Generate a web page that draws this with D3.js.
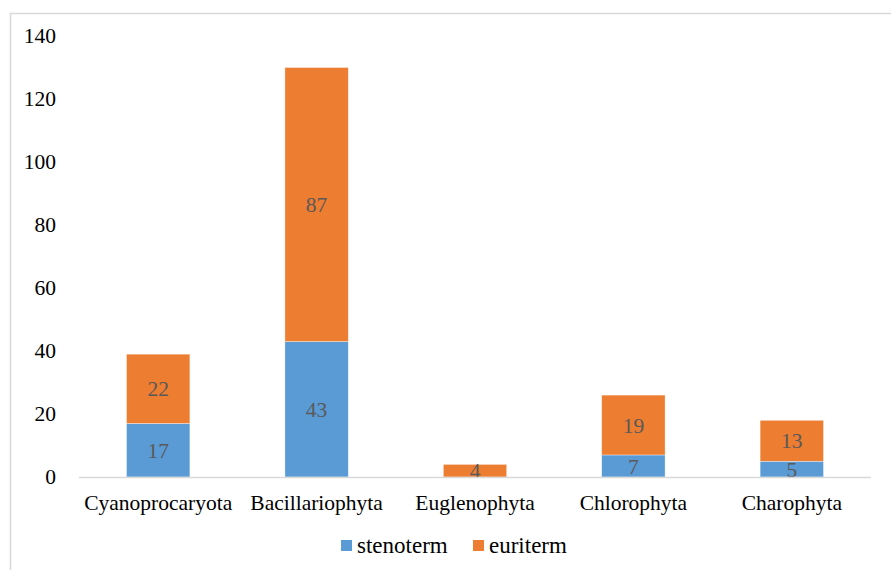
<!DOCTYPE html>
<html>
<head>
<meta charset="utf-8">
<script src="https://cdn.jsdelivr.net/npm/d3@7"></script>
<style>
  html, body { margin: 0; padding: 0; background: #fff; }
  svg { display: block; }
  svg text { font-family: "Liberation Serif", "Times New Roman", serif !important; }
</style>
</head>
<body>
<svg id="chart" width="891" height="570"></svg>
<script>
// Algal divisions and species counts by temperature tolerance
const categories = ["Cyanoprocaryota", "Bacillariophyta", "Euglenophyta", "Chlorophyta", "Charophyta"];
const stenoterm = [17, 43, 0, 7, 5];
const euriterm = [22, 87, 4, 19, 13];
const seriesNames = ["stenoterm", "euriterm"];
const seriesColors = ["#5B9BD5", "#ED7D31"];
const yTicks = [0, 20, 40, 60, 80, 100, 120, 140];

const FONT = "'Liberation Serif', 'Times New Roman', serif";
const svg = d3.select("#chart");
const x0 = 79, x1 = 871;
const yTop = 36, yBottom = 477;

// outer chart frame (only top and left edges fall inside the view)
svg.append("rect")
  .attr("x", 10.5).attr("y", 13.5)
  .attr("width", 1000).attr("height", 1000)
  .attr("fill", "none").attr("stroke", "#d9d9d9").attr("stroke-width", 1.5);

const x = d3.scaleBand().domain(categories).range([x0, x1]).paddingInner(0.6).paddingOuter(0.3);
const y = d3.scaleLinear().domain([0, 140]).range([yBottom, yTop]);

const rows = categories.map((c, i) => ({ cat: c, stenoterm: stenoterm[i], euriterm: euriterm[i] }));
const stack = d3.stack().keys(seriesNames)(rows);

const g = svg.append("g");
stack.forEach((layer, si) => {
  g.append("g").selectAll("rect").data(layer).join("rect")
    .attr("x", d => x(d.data.cat))
    .attr("width", x.bandwidth())
    .attr("y", d => y(d[1]))
    .attr("height", d => y(d[0]) - y(d[1]))
    .attr("fill", seriesColors[si])
    .attr("stroke", "#ffffff").attr("stroke-width", 0.6).attr("stroke-opacity", 0.6);
});

// value labels centred in each segment
stack.forEach((layer, si) => {
  g.append("g").selectAll("text").data(layer.filter(d => d[1] - d[0] > 0)).join("text")
    .attr("x", d => x(d.data.cat) + x.bandwidth() / 2)
    .attr("y", d => (y(d[0]) + y(d[1])) / 2)
    .attr("dy", "0.35em")
    .attr("text-anchor", "middle")
    .style("font-family", FONT)
    .attr("font-size", 21.5)
    .attr("fill", "#595959")
    .text(d => d[1] - d[0]);
});

// x axis baseline
svg.append("line")
  .attr("x1", x0).attr("x2", x1)
  .attr("y1", yBottom + 0.5).attr("y2", yBottom + 0.5)
  .attr("stroke", "#d9d9d9").attr("stroke-width", 1.5);

// category labels
svg.append("g").selectAll("text").data(categories).join("text")
  .attr("x", d => x(d) + x.bandwidth() / 2)
  .attr("y", 510)
  .attr("text-anchor", "middle")
  .style("font-family", FONT)
  .attr("font-size", 21.5)
  .attr("fill", "#000")
  .text(d => d);

// y tick labels
const yAxis = d3.axisLeft(y).tickValues(yTicks).tickSize(0).tickPadding(0);
const ya = svg.append("g").attr("transform", "translate(56,0)").call(yAxis);
ya.attr("font-family", null).attr("font-size", null);
ya.select(".domain").remove();
ya.selectAll("text")
  .style("font-family", FONT)
  .attr("font-size", 21.5).attr("fill", "#000");

// legend
const legend = svg.append("g");
const legendItems = [{ name: "stenoterm", color: seriesColors[0], x: 341 }, { name: "euriterm", color: seriesColors[1], x: 473 }];
legendItems.forEach(it => {
  legend.append("rect").attr("x", it.x).attr("y", 540).attr("width", 11).attr("height", 11).attr("fill", it.color);
  legend.append("text").attr("x", it.x + 16).attr("y", 553)
    .style("font-family", FONT)
    .attr("font-size", 23).attr("fill", "#000").text(it.name);
});
</script>
</body>
</html>
